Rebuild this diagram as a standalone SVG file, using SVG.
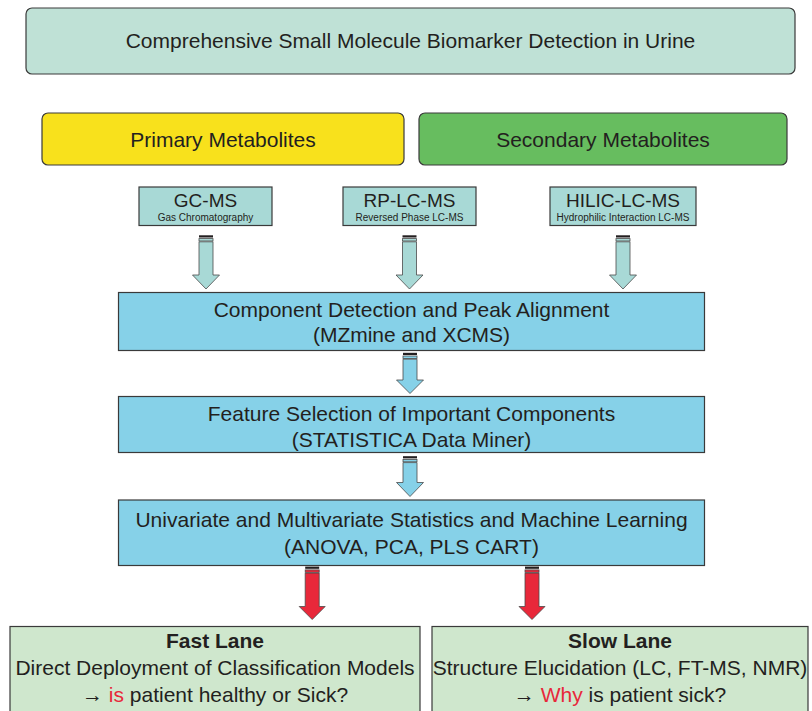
<svg xmlns="http://www.w3.org/2000/svg" width="812" height="711" viewBox="0 0 812 711">
<defs>
<style>
text{font-family:"Liberation Sans",Arial,sans-serif;fill:#231f20;text-anchor:middle}
.t21{font-size:21px}
.t20{font-size:19px}
.sub{font-size:10px}
.b{font-weight:bold}
.red{fill:#e8283a}
.box{stroke:#3a3a3a;stroke-width:1.2}
.title{fill:#bfe1d6}
.yel{fill:#f8e11c}
.grn{fill:#67bd5f}
.tech{fill:#a8d9d6}
.blue{fill:#86d1e8}
.lane{fill:#cfe7cd}
.cap{fill:#231f20}
.ar{stroke:#4a4a4a;stroke-width:0.8}
.art{fill:#a8d9d6}
.arb{fill:#86d1e8}
.arr{fill:#e8283a}
</style>
</defs>
<rect width="812" height="711" fill="#ffffff"/>

<g id="title">
<rect class="box title" x="26" y="8" width="769" height="66" rx="6"/>
<text class="t21" x="410.5" y="48">Comprehensive Small Molecule Biomarker Detection in Urine</text>
</g>

<g id="primary">
<rect class="box yel" x="42" y="113" width="362" height="52" rx="6"/>
<text class="t21" x="223" y="146.5">Primary Metabolites</text>
</g>

<g id="secondary">
<rect class="box grn" x="419" y="113" width="368" height="52" rx="6"/>
<text class="t21" x="603" y="146.5">Secondary Metabolites</text>
</g>

<g id="gcms">
<rect class="box tech" x="139" y="187" width="133" height="38.5"/>
<text class="t20" x="205.5" y="206.5">GC-MS</text>
<text class="sub" x="205.5" y="220.5">Gas Chromatography</text>
</g>

<g id="rplcms">
<rect class="box tech" x="343" y="187" width="133" height="38.5"/>
<text class="t20" x="409.5" y="206.5">RP-LC-MS</text>
<text class="sub" x="409.5" y="220.5">Reversed Phase LC-MS</text>
</g>

<g id="hiliclcms">
<rect class="box tech" x="550" y="187" width="146" height="38.5"/>
<text class="t20" x="623" y="206.5">HILIC-LC-MS</text>
<text class="sub" x="623" y="220.5">Hydrophilic Interaction LC-MS</text>
</g>

<g id="component">
<rect class="box blue" x="118.5" y="292.5" width="586" height="58"/>
<text class="t21" x="411.5" y="316.5">Component Detection and Peak Alignment</text>
<text class="t21" x="411.5" y="342">(MZmine and XCMS)</text>
</g>

<g id="feature">
<rect class="box blue" x="118.5" y="396.5" width="586" height="56"/>
<text class="t21" x="411.5" y="420.5">Feature Selection of Important Components</text>
<text class="t21" x="411.5" y="446.5">(STATISTICA Data Miner)</text>
</g>

<g id="statistics">
<rect class="box blue" x="118.5" y="500" width="586" height="65.5"/>
<text class="t21" x="411.5" y="527">Univariate and Multivariate Statistics and Machine Learning</text>
<text class="t21" x="411.5" y="554">(ANOVA, PCA, PLS CART)</text>
</g>

<g id="fastlane">
<rect class="box lane" x="10" y="626.5" width="410" height="100"/>
<text class="t21 b" x="215" y="648">Fast Lane</text>
<text class="t21" x="215" y="675">Direct Deployment of Classification Models</text>
<text class="t21" x="215" y="702">→ <tspan class="red">is</tspan> patient healthy or Sick?</text>
</g>

<g id="slowlane">
<rect class="box lane" x="432" y="626.5" width="376" height="100"/>
<text class="t21 b" x="620" y="648">Slow Lane</text>
<text class="t21" x="620" y="675">Structure Elucidation (LC, FT-MS, NMR)</text>
<text class="t21" x="620" y="702">→ <tspan class="red">Why</tspan> is patient sick?</text>
</g>

<g id="connectors">
<g transform="translate(206,0)">
<rect class="cap" x="-7" y="235.3" width="14" height="2.2"/>
<rect class="ar art" x="-7" y="238.6" width="14" height="2.4"/>
<polygon class="ar art" points="-7,241.8 7,241.8 7,275 13.5,275 0,289 -13.5,275 -7,275"/>
</g>
<g transform="translate(409.5,0)">
<rect class="cap" x="-7" y="235.3" width="14" height="2.2"/>
<rect class="ar art" x="-7" y="238.6" width="14" height="2.4"/>
<polygon class="ar art" points="-7,241.8 7,241.8 7,275 13.5,275 0,289 -13.5,275 -7,275"/>
</g>
<g transform="translate(623,0)">
<rect class="cap" x="-7" y="235.3" width="14" height="2.2"/>
<rect class="ar art" x="-7" y="238.6" width="14" height="2.4"/>
<polygon class="ar art" points="-7,241.8 7,241.8 7,275 13.5,275 0,289 -13.5,275 -7,275"/>
</g>
<g transform="translate(410,0)">
<rect class="cap" x="-7" y="352.8" width="14" height="2.2"/>
<rect class="ar arb" x="-7" y="356" width="14" height="2.4"/>
<polygon class="ar arb" points="-7,359.2 7,359.2 7,380 13.5,380 0,393.5 -13.5,380 -7,380"/>
</g>
<g transform="translate(410,0)">
<rect class="cap" x="-7" y="456.2" width="14" height="2.2"/>
<rect class="ar arb" x="-7" y="459.4" width="14" height="2.4"/>
<polygon class="ar arb" points="-7,462.6 7,462.6 7,482.5 13.5,482.5 0,496.5 -13.5,482.5 -7,482.5"/>
</g>
<g transform="translate(312.2,0)">
<rect class="cap" x="-7" y="566.6" width="14" height="2.2"/>
<rect class="ar arr" x="-7" y="569.9" width="14" height="2.4"/>
<polygon class="ar arr" points="-7,573.1 7,573.1 7,606.5 13,606.5 0,619.5 -13,606.5 -7,606.5"/>
</g>
<g transform="translate(532,0)">
<rect class="cap" x="-7" y="566.6" width="14" height="2.2"/>
<rect class="ar arr" x="-7" y="569.9" width="14" height="2.4"/>
<polygon class="ar arr" points="-7,573.1 7,573.1 7,606.5 13,606.5 0,619.5 -13,606.5 -7,606.5"/>
</g>
</g>
</svg>
